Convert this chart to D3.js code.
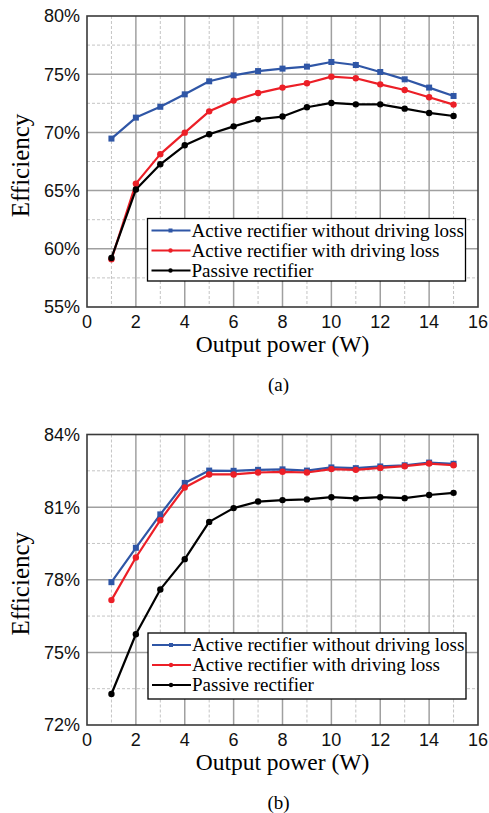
<!DOCTYPE html>
<html><head><meta charset="utf-8">
<script src="https://cdn.jsdelivr.net/npm/d3@7"></script>
<style>html,body{margin:0;padding:0;background:#fff;}svg{display:block;}</style>
</head><body>
<svg id="c" width="489" height="813"></svg>
<script>
const power = [1,2,3,4,5,6,7,8,9,10,11,12,13,14,15];
const seriesNames = ["Active rectifier without driving loss","Active rectifier with driving loss","Passive rectifier"];
// Panel (a)
const aActiveNoDrive = [69.47,71.27,72.20,73.27,74.39,74.90,75.27,75.48,75.65,76.05,75.79,75.19,74.56,73.85,73.13];
const aActiveDrive   = [59.10,65.60,68.13,69.98,71.81,72.73,73.38,73.85,74.22,74.79,74.65,74.13,73.64,73.02,72.39];
const aPassive       = [59.21,65.09,67.26,68.89,69.84,70.52,71.13,71.36,72.16,72.53,72.41,72.41,72.04,71.67,71.41];
// Panel (b)
const bActiveNoDrive = [77.90,79.32,80.70,82.00,82.51,82.50,82.54,82.56,82.51,82.64,82.61,82.68,82.73,82.84,82.79];
const bActiveDrive   = [77.16,78.92,80.46,81.81,82.35,82.35,82.43,82.46,82.43,82.57,82.54,82.62,82.69,82.80,82.73];
const bPassive       = [73.28,75.75,77.60,78.85,80.39,80.96,81.23,81.29,81.32,81.41,81.36,81.41,81.37,81.50,81.59];
const xTicks = [0,2,4,6,8,10,12,14,16];
const aYTicks = [55,60,65,70,75,80];
const bYTicks = [72,75,78,81,84];
const xLabel = "Output power (W)";
const yLabel = "Efficiency";

const colors = ["#2f56a6","#ec1f27","#000000"];
const shapes = ["square","circle","circle"];
const serif = "'Liberation Serif','Times New Roman',serif";
const sans = "'Liberation Sans',Arial,sans-serif";
const svg = d3.select("#c");

function panel(cfg){
  const g = svg.append("g");
  const x = d3.scaleLinear().domain([0,16]).range([87,478]);
  const y = d3.scaleLinear().domain(cfg.yDomain).range([cfg.bottom,cfg.top]);
  const minorX = d3.range(1,16,2);
  const minorY = d3.range(0,cfg.yTicks.length-1).map(i=>(cfg.yTicks[i]+cfg.yTicks[i+1])/2);
  // minor grid
  g.selectAll(".mx").data(minorX).join("line")
    .attr("x1",d=>x(d)).attr("x2",d=>x(d)).attr("y1",cfg.top).attr("y2",cfg.bottom)
    .attr("stroke","#c4c4c4").attr("stroke-width",1).attr("stroke-dasharray","3,2");
  g.selectAll(".my").data(minorY).join("line")
    .attr("x1",87).attr("x2",478).attr("y1",d=>y(d)).attr("y2",d=>y(d))
    .attr("stroke","#c4c4c4").attr("stroke-width",1).attr("stroke-dasharray","3,2");
  // major grid
  g.selectAll(".Mx").data(xTicks.slice(1,-1)).join("line")
    .attr("x1",d=>x(d)).attr("x2",d=>x(d)).attr("y1",cfg.top).attr("y2",cfg.bottom)
    .attr("stroke","#a0a0a0").attr("stroke-width",1.5);
  g.selectAll(".My").data(cfg.yTicks.slice(1,-1)).join("line")
    .attr("x1",87).attr("x2",478).attr("y1",d=>y(d)).attr("y2",d=>y(d))
    .attr("stroke","#a0a0a0").attr("stroke-width",1.5);
  // frame
  g.append("rect").attr("x",87).attr("y",cfg.top).attr("width",391).attr("height",cfg.bottom-cfg.top)
    .attr("fill","none").attr("stroke","#3a3a3a").attr("stroke-width",1.6);
  // tick labels
  g.selectAll(".xt").data(xTicks).join("text")
    .attr("x",d=>x(d)).attr("y",cfg.bottom+20.5).attr("text-anchor","middle")
    .attr("font-family",sans).attr("font-size",18).attr("fill","#111").text(d=>d);
  g.selectAll(".yt").data(cfg.yTicks).join("text")
    .attr("x",80).attr("y",d=>y(d)).attr("dy","0.36em").attr("text-anchor","end")
    .attr("font-family",sans).attr("font-size",18).attr("fill","#111").text(d=>d+"%");
  // axis titles
  g.append("text").attr("x",282.5).attr("y",cfg.bottom+44.5).attr("text-anchor","middle")
    .attr("font-family",serif).attr("font-size",23.5).text(xLabel);
  g.append("text").attr("transform",`translate(29,${(cfg.top+cfg.bottom)/2+4}) rotate(-90)`)
    .attr("text-anchor","middle").attr("font-family",serif).attr("font-size",25).text(yLabel);
  g.append("text").attr("x",278.5).attr("y",cfg.bottom+83.5).attr("text-anchor","middle")
    .attr("font-family",serif).attr("font-size",19).text(cfg.tag);
  // series
  const line = d3.line().x((d,i)=>x(power[i])).y(d=>y(d));
  cfg.series.forEach((s,k)=>{
    g.append("path").datum(s).attr("d",line).attr("fill","none")
      .attr("stroke",colors[k]).attr("stroke-width",2.2).attr("stroke-linejoin","round");
  });
  cfg.series.forEach((s,k)=>{
    if(shapes[k]==="square"){
      g.selectAll(null).data(s).join("rect")
        .attr("x",(d,i)=>x(power[i])-3).attr("y",d=>y(d)-3).attr("width",6).attr("height",6)
        .attr("fill",colors[k]);
    } else {
      g.selectAll(null).data(s).join("circle")
        .attr("cx",(d,i)=>x(power[i])).attr("cy",d=>y(d)).attr("r",3.2).attr("fill",colors[k]);
    }
  });
  // legend
  const L = cfg.legend;
  const lg = g.append("g");
  lg.append("rect").attr("x",L.x).attr("y",L.y).attr("width",L.w).attr("height",L.h)
    .attr("fill","#fff").attr("stroke","#000").attr("stroke-width",1.3);
  seriesNames.forEach((n,k)=>{
    const cy = L.y+12+k*20;
    lg.append("line").attr("x1",L.x+4).attr("x2",L.x+43).attr("y1",cy).attr("y2",cy)
      .attr("stroke",colors[k]).attr("stroke-width",2.2);
    if(shapes[k]==="square") lg.append("rect").attr("x",L.x+21).attr("y",cy-2).attr("width",4).attr("height",4).attr("fill",colors[k]);
    else lg.append("circle").attr("cx",L.x+23).attr("cy",cy).attr("r",2.2).attr("fill",colors[k]);
    lg.append("text").attr("x",L.x+44).attr("y",cy+6).attr("font-family",serif).attr("font-size",19)
      .attr("fill","#000").text(n);
  });
}

panel({top:16,bottom:307,yDomain:[55,80],yTicks:aYTicks,tag:"(a)",
  series:[aActiveNoDrive,aActiveDrive,aPassive],legend:{x:147.5,y:218.5,w:318,h:62.5}});
panel({top:434.5,bottom:725,yDomain:[72,84],yTicks:bYTicks,tag:"(b)",
  series:[bActiveNoDrive,bActiveDrive,bPassive],legend:{x:148,y:633,w:318,h:66}});
</script>
</body></html>
